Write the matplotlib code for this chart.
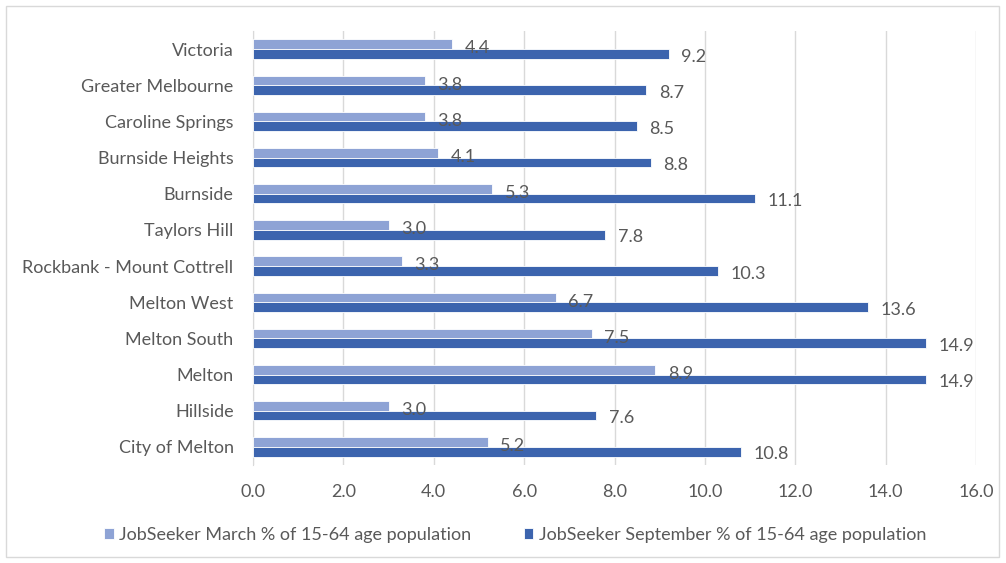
import matplotlib
matplotlib.use("Agg")
import matplotlib.pyplot as plt
import numpy as np
from matplotlib.patches import Rectangle

categories = ["City of Melton", "Hillside", "Melton", "Melton South", "Melton West",
              "Rockbank - Mount Cottrell", "Taylors Hill", "Burnside", "Burnside Heights",
              "Caroline Springs", "Greater Melbourne", "Victoria"]
march = [5.2, 3.0, 8.9, 7.5, 6.7, 3.3, 3.0, 5.3, 4.1, 3.8, 3.8, 4.4]
september = [10.8, 7.6, 14.9, 14.9, 13.6, 10.3, 7.8, 11.1, 8.8, 8.5, 8.7, 9.2]
march_name = "JobSeeker March % of 15-64 age population"
sept_name = "JobSeeker September % of 15-64 age population"
xticks = [0, 2, 4, 6, 8, 10, 12, 14, 16]

plt.rcParams['font.family'] = ['Lato', 'DejaVu Sans']
txt = '#595959'
c_mar = '#8EA3D5'
c_sep = '#3C64AE'
fs = 13

fig = plt.figure(figsize=(10.06, 5.63), dpi=100)
ax = fig.add_axes([253/1006, 1-465/563, (976-253)/1006, (465-31)/563])

y = np.arange(len(categories))
h = 0.265
ax.barh(y + h/2, march, height=h, color=c_mar, edgecolor='white', linewidth=0.6, zorder=3, label=march_name)
ax.barh(y - h/2, september, height=h, color=c_sep, edgecolor='white', linewidth=0.6, zorder=3, label=sept_name)

for yi, v in zip(y, march):
    ax.annotate(f"{v:.1f}", (v, yi + h/2), xytext=(9, -3), textcoords='offset points',
                ha='left', va='center', fontsize=fs, color=txt, zorder=4)
for yi, v in zip(y, september):
    ax.annotate(f"{v:.1f}", (v, yi - h/2), xytext=(9, -2), textcoords='offset points',
                ha='left', va='center', fontsize=fs, color=txt, zorder=4)

ax.set_xlim(0, 16)
ax.set_ylim(-0.5, len(categories) - 0.5)
ax.set_xticks(xticks)
ax.set_xticklabels([f"{t:.1f}" for t in xticks])
ax.set_yticks(y)
ax.set_yticklabels(categories)
ax.tick_params(axis='both', length=0, labelsize=fs, colors=txt)
ax.tick_params(axis='x', pad=14)
ax.tick_params(axis='y', pad=14)
ax.grid(axis='x', color='#D9D9D9', linewidth=1, zorder=0)
for s in ['top', 'right', 'bottom']:
    ax.spines[s].set_visible(False)
ax.spines['left'].set_color('#D9D9D9')
ax.spines['left'].set_zorder(1)

handles, labels = ax.get_legend_handles_labels()
fig.legend(handles, labels, loc='center', bbox_to_anchor=(515/1006, 1-535/563), ncol=2,
           frameon=False, fontsize=fs, labelcolor=txt, handlelength=0.55, handleheight=0.55,
           handletextpad=0.3, columnspacing=2.9)

fig.patches.append(Rectangle((6/1006, 1-557/563), (999-6)/1006, (557-6)/563,
                             transform=fig.transFigure, fill=False, edgecolor='#D9D9D9', linewidth=1))

fig.savefig("out.png", dpi=100)
